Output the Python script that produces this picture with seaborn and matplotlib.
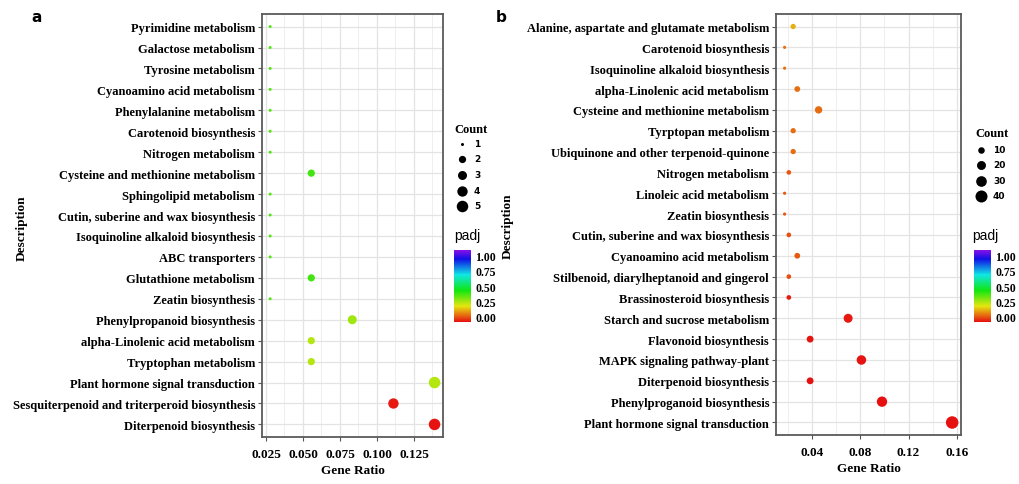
import numpy as np
import pandas as pd
import matplotlib
matplotlib.use("Agg")
import matplotlib.pyplot as plt
import seaborn as sns
from matplotlib.colors import ListedColormap, Normalize, hsv_to_rgb
from matplotlib.ticker import MultipleLocator, FormatStrFormatter
import matplotlib.colorbar as mcolorbar

# ---------------- data ----------------
a_terms = [
    "Pyrimidine metabolism", "Galactose metabolism", "Tyrosine metabolism",
    "Cyanoamino acid metabolism", "Phenylalanine metabolism", "Carotenoid biosynthesis",
    "Nitrogen metabolism", "Cysteine and methionine metabolism", "Sphingolipid metabolism",
    "Cutin, suberine and wax biosynthesis", "Isoquinoline alkaloid biosynthesis",
    "ABC transporters", "Glutathione metabolism", "Zeatin biosynthesis",
    "Phenylpropanoid biosynthesis", "alpha-Linolenic acid metabolism",
    "Tryptophan metabolism", "Plant hormone signal transduction",
    "Sesquiterpenoid and triterperoid biosynthesis", "Diterpenoid biosynthesis",
]
a_ratio = [0.0278, 0.0278, 0.0278, 0.0278, 0.0278, 0.0278, 0.0278, 0.0556, 0.0278, 0.0278,
           0.0278, 0.0278, 0.0556, 0.0278, 0.0833, 0.0556, 0.0556, 0.1389, 0.1111, 0.1389]
a_count = [1, 1, 1, 1, 1, 1, 1, 2, 1, 1, 1, 1, 2, 1, 3, 2, 2, 5, 4, 5]
a_padj = [0.37, 0.37, 0.37, 0.37, 0.37, 0.37, 0.37, 0.39, 0.37, 0.37,
          0.37, 0.37, 0.39, 0.37, 0.29, 0.27, 0.27, 0.27, 0.01, 0.005]

b_terms = [
    "Alanine, aspartate and glutamate metabolism", "Carotenoid biosynthesis",
    "Isoquinoline alkaloid biosynthesis", "alpha-Linolenic acid metabolism",
    "Cysteine and methionine metabolism", "Tyrptopan metabolism",
    "Ubiquinone and other terpenoid-quinone", "Nitrogen metabolism",
    "Linoleic acid metabolism", "Zeatin biosynthesis",
    "Cutin, suberine and wax biosynthesis", "Cyanoamino acid metabolism",
    "Stilbenoid, diarylheptanoid and gingerol", "Brassinosteroid biosynthesis",
    "Starch and sucrose metabolism", "Flavonoid biosynthesis",
    "MAPK signaling pathway-plant", "Diterpenoid biosynthesis",
    "Phenylproganoid biosynthesis", "Plant hormone signal transduction",
]
b_ratio = [0.0246, 0.0175, 0.0175, 0.0280, 0.0456, 0.0246, 0.0246, 0.0210, 0.0175, 0.0175,
           0.0210, 0.0280, 0.0210, 0.0210, 0.0700, 0.0386, 0.0810, 0.0386, 0.0980, 0.1560]
b_count = [7, 5, 5, 8, 13, 7, 7, 6, 5, 5, 6, 8, 6, 6, 20, 11, 23, 11, 28, 44]
b_padj = [0.165, 0.10, 0.10, 0.10, 0.095, 0.095, 0.095, 0.075, 0.075, 0.075,
          0.07, 0.075, 0.07, 0.015, 0.01, 0.005, 0.004, 0.003, 0.002, 0.0]

a_count_breaks = [1, 2, 3, 4, 5]
b_count_breaks = [10, 20, 30, 40]
padj_breaks = [0.0, 0.25, 0.5, 0.75, 1.0]

# ---------------- style ----------------
W, H = 1020, 485
SERIF = "Liberation Serif"
cmap = ListedColormap([hsv_to_rgb((h, 0.93, 0.9)) for h in np.linspace(0, 0.76, 256)])

fig = plt.figure(figsize=(W / 100, H / 100), dpi=100)
fig.patch.set_facecolor("white")


def box(l, t, r, b):
    return [l / W, 1 - b / H, (r - l) / W, (b - t) / H]


def diam_pt(c, cmin, cmax, dmin, dmax):
    d = dmin + (dmax - dmin) * np.sqrt((c - cmin) / (cmax - cmin))
    return d * 0.72


def panel(rect, terms, ratio, count, padj, xlim, major, minor, fmt, dmin, dmax):
    ax = fig.add_axes(box(*rect))
    df = pd.DataFrame({"Description": terms, "GeneRatio": ratio, "Count": count, "padj": padj})
    cmin, cmax = min(count), max(count)
    sizes = {c: diam_pt(c, cmin, cmax, dmin, dmax) ** 2 for c in sorted(set(count))}
    sns.scatterplot(data=df, x="GeneRatio", y="Description", hue="padj", palette=cmap,
                    hue_norm=(0, 1), size="Count", sizes=sizes, linewidth=0,
                    legend=False, ax=ax, zorder=3)
    n = len(terms)
    ax.set_ylim(n - 0.4, -0.6)
    ax.set_xlim(*xlim)
    ax.xaxis.set_major_locator(MultipleLocator(major))
    ax.xaxis.set_minor_locator(MultipleLocator(minor))
    ax.xaxis.set_major_formatter(FormatStrFormatter(fmt))
    ax.set_axisbelow(True)
    ax.grid(True, which="major", color="#E3E3E3", lw=0.9)
    ax.grid(True, which="minor", axis="x", color="#EEEEEE", lw=0.7)
    for s in ax.spines.values():
        s.set_color("#5A5A5A")
        s.set_linewidth(1.3)
    ax.tick_params(axis="both", which="major", length=3, width=0.8, color="#555555",
                   pad=2)
    ax.tick_params(axis="x", which="major", pad=5)
    ax.tick_params(axis="x", which="minor", length=0)
    for lab in ax.get_yticklabels():
        lab.set_fontfamily(SERIF)
        lab.set_fontweight("bold")
        lab.set_fontsize(9)
    for lab in ax.get_xticklabels():
        lab.set_fontfamily(SERIF)
        lab.set_fontweight("bold")
        lab.set_fontsize(9.5)
    ax.set_xlabel("Gene Ratio", fontfamily=SERIF, fontweight="bold", fontsize=9.5, labelpad=3)
    ax.set_ylabel("")
    return ax, cmin, cmax


def size_legend(x_title, y_title, x_dot, x_txt, y_rows, breaks, cmin, cmax, dmin, dmax):
    lax = fig.add_axes([0, 0, 1, 1], zorder=5)
    lax.set_xlim(0, W)
    lax.set_ylim(H, 0)
    lax.axis("off")
    lax.text(x_title, y_title, "Count", fontfamily=SERIF, fontweight="bold", fontsize=9,
             ha="left", va="center")
    for yv, c in zip(y_rows, breaks):
        lax.scatter([x_dot], [yv], s=diam_pt(c, cmin, cmax, dmin, dmax) ** 2, color="black",
                    linewidths=0)
        lax.text(x_txt, yv, str(c), fontfamily="DejaVu Sans", fontweight="bold", fontsize=6.5,
                 ha="left", va="center")
    return lax


def color_legend(x_title, y_title, rect):
    fig.text(x_title / W, 1 - y_title / H, "padj", fontfamily="Liberation Sans", fontsize=10,
             ha="left", va="center")
    cax = fig.add_axes(box(*rect))
    cb = mcolorbar.ColorbarBase(cax, cmap=cmap, norm=Normalize(-0.09, 1.09),
                                ticks=padj_breaks, orientation="vertical")
    cb.outline.set_visible(False)
    cb.ax.tick_params(length=0, pad=3)
    cb.ax.set_yticklabels([f"{v:.2f}" for v in padj_breaks])
    for lab in cb.ax.get_yticklabels():
        lab.set_fontfamily(SERIF)
        lab.set_fontweight("bold")
        lab.set_fontsize(8.5)


# panel a
ax_a, ca0, ca1 = panel((262, 15, 443, 438), a_terms, a_ratio, a_count, a_padj,
                       (0.0223, 0.1446), 0.025, 0.0125, "%.3f", 3.0, 11.5)
# panel b
ax_b, cb0, cb1 = panel((776, 15, 961, 436), b_terms, b_ratio, b_count, b_padj,
                       (0.0104, 0.1633), 0.04, 0.02, "%.2f", 3.2, 12.5)

fig.text(22 / W, 1 - 228 / H, "Description", rotation=90, fontfamily=SERIF,
         fontweight="bold", fontsize=9.5, ha="center", va="center")
fig.text(508 / W, 1 - 226 / H, "Description", rotation=90, fontfamily=SERIF,
         fontweight="bold", fontsize=9.5, ha="center", va="center")
fig.text(37 / W, 1 - 18 / H, "a", fontfamily="DejaVu Sans", fontweight="bold", fontsize=11,
         ha="center", va="center")
fig.text(501 / W, 1 - 18 / H, "b", fontfamily="DejaVu Sans", fontweight="bold", fontsize=11,
         ha="center", va="center")

# legends
size_legend(454, 130, 462, 474, [145, 160, 176, 192, 207], a_count_breaks, ca0, ca1, 3.0, 11.5)
color_legend(454, 236, (454, 251, 471, 323))
size_legend(975, 134, 981, 993, [151, 166, 182, 197], b_count_breaks, cb0, cb1, 3.2, 12.5)
color_legend(972, 236, (974, 251, 991, 323))

fig.savefig("out.png", dpi=100, facecolor="white")
